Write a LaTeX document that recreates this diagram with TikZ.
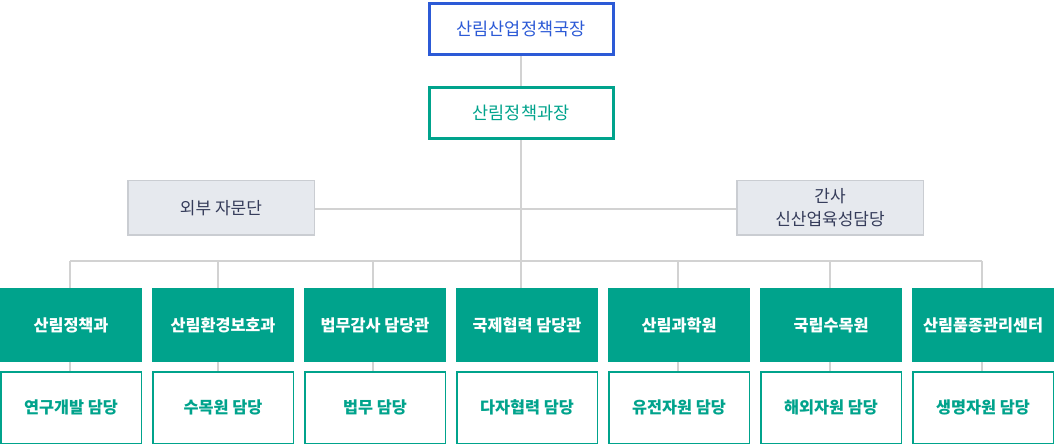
\documentclass[tikz,border=0pt]{standalone}
\usepackage{fontspec}
\setmainfont{Noto Sans CJK KR}
\usetikzlibrary{backgrounds}
\definecolor{cblue}{HTML}{2C5AD6}
\definecolor{cgreen}{HTML}{00A38C}
\definecolor{cline}{HTML}{D2D2D2}
\definecolor{cgrayfill}{HTML}{E6E9EE}
\definecolor{cgrayline}{HTML}{CACDD2}
\definecolor{cdark}{HTML}{353C5A}
\begin{document}
\begin{tikzpicture}[x=1pt,y=-1pt,
  topbox/.style={draw=cblue,line width=3pt,fill=white,minimum width=184pt,minimum height=51pt,inner sep=0pt,text=cblue,font=\fontsize{17.5}{20}\selectfont},
  secbox/.style={draw=cgreen,line width=3pt,fill=white,minimum width=184pt,minimum height=51pt,inner sep=0pt,text=cgreen,font=\fontsize{17.5}{20}\selectfont},
  sidebox/.style={draw=cgrayline,line width=1.5pt,fill=cgrayfill,minimum width=186.5pt,minimum height=54.5pt,inner sep=0pt,text=cdark,align=center,font=\fontsize{17}{23}\selectfont},
  deptbox/.style={fill=cgreen,minimum width=142pt,minimum height=74pt,inner sep=0pt,text=white,font=\fontsize{16.3}{19}\selectfont\bfseries},
  teambox/.style={draw=cgreen,line width=1.5pt,fill=white,minimum width=140.5pt,minimum height=71.5pt,inner sep=0pt,text=cgreen,font=\fontsize{16.3}{19}\selectfont\bfseries},
  conn/.style={draw=cline,line width=1.2pt}]
\useasboundingbox (0,0) rectangle (1054,446);
% nodes
\node[topbox] (top) at (521,29) {산림산업정책국장};
\node[secbox] (sec) at (521,113) {산림정책과장};
\node[sidebox] (ext) at (221,208) {외부 자문단};
\node[sidebox] (gan) at (830,208) {간사\\신산업육성담당};
\node[deptbox] (d1) at (71,325) {산림정책과};
\node[deptbox] (d2) at (223,325) {산림환경보호과};
\node[deptbox] (d3) at (375,325) {법무감사 담당관};
\node[deptbox] (d4) at (527,325) {국제협력 담당관};
\node[deptbox] (d5) at (679,325) {산림과학원};
\node[deptbox] (d6) at (831,325) {국립수목원};
\node[deptbox] (d7) at (983,325) {산림품종관리센터};
\node[teambox] (t1) at (71,407.5) {연구개발 담당};
\node[teambox] (t2) at (223,407.5) {수목원 담당};
\node[teambox] (t3) at (375,407.5) {법무 담당};
\node[teambox] (t4) at (527,407.5) {다자협력 담당};
\node[teambox] (t5) at (679,407.5) {유전자원 담당};
\node[teambox] (t6) at (831,407.5) {해외자원 담당};
\node[teambox] (t7) at (983,407.5) {생명자원 담당};
% bus coordinates
\coordinate (bL) at (70,261);
\coordinate (bR) at (982,261);
\coordinate (bC) at (521,261);
\coordinate (mid) at (521,209);
\foreach \i/\x in {1/70,2/218,3/373,5/678,6/830,7/982}{
  \coordinate (u\i) at (\x,261);
}
\coordinate (u4) at (521,261);
% connectors
\begin{scope}[on background layer]
\draw[conn] (top.south) -- (sec.north);
\draw[conn] (sec.south) -- (mid) -- (bC);
\draw[conn] (ext.east |- mid) -- (gan.west |- mid);
\draw[conn] (bL) -- (bR);
\foreach \i in {1,...,7}{
  \draw[conn] (u\i) -- (u\i |- d\i.north);
}
\foreach \i in {1,2,3,5,6,7}{
  \draw[conn] (u\i |- d\i.south) -- (u\i |- t\i.north);
}
\end{scope}
\end{tikzpicture}
\end{document}
